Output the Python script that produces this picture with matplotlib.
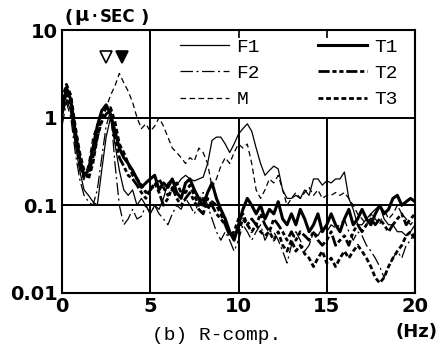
import matplotlib
matplotlib.use('Agg')
import matplotlib.pyplot as plt
import numpy as np
from matplotlib.patches import Rectangle

plt.rcParams['lines.scale_dashes'] = False

# frequency axis (Hz), 0.25 Hz step
freq = np.arange(0, 20.01, 0.25)

# response levels (micro-sec)
F1 = [1.0, 1.6, 1.2, 0.5,  0.25, 0.15, 0.13, 0.11,  0.1, 0.25, 0.6, 1.0,
      0.5, 0.25, 0.15, 0.13,  0.15, 0.1, 0.12, 0.1,  0.08, 0.1, 0.09, 0.12,
      0.18, 0.2, 0.17, 0.2,  0.22, 0.2, 0.19, 0.2,  0.21, 0.3, 0.55, 0.6,
      0.6, 0.5, 0.4, 0.5,  0.65, 0.75, 0.85, 0.7,  0.45, 0.3, 0.22, 0.25,
      0.28, 0.26, 0.15, 0.12,  0.12, 0.13, 0.12, 0.15,  0.13, 0.2, 0.2, 0.17,
      0.19, 0.18, 0.2, 0.2,  0.24, 0.12, 0.09, 0.06,  0.06, 0.07, 0.08, 0.09,
      0.1, 0.07, 0.06, 0.06,  0.05, 0.05, 0.045, 0.05,  0.06]
F2 = [0.8, 1.5, 1.0, 0.4,  0.2, 0.13, 0.11, 0.1,  0.15, 0.35, 0.8, 1.2,
      0.3, 0.1, 0.06, 0.07,  0.09, 0.07, 0.075, 0.1,  0.08, 0.1, 0.08, 0.07,
      0.06, 0.08, 0.1, 0.09,  0.12, 0.1, 0.08, 0.11,  0.14, 0.1, 0.07, 0.05,
      0.04, 0.05, 0.04, 0.03,  0.04, 0.06, 0.05, 0.04,  0.05, 0.06, 0.04, 0.05,
      0.05, 0.04, 0.03, 0.022,  0.035, 0.05, 0.04, 0.03,  0.035, 0.05, 0.045, 0.055,
      0.05, 0.06, 0.055, 0.06,  0.07, 0.05, 0.04, 0.05,  0.045, 0.035, 0.03, 0.025,
      0.02, 0.015, 0.02, 0.025,  0.03, 0.025, 0.035, 0.04,  0.05]
M = [1.0, 1.8, 1.2, 0.6,  0.3, 0.2, 0.3, 0.6,  0.85, 1.0, 1.3, 1.8,
     2.3, 3.2, 2.5, 2.0,  1.5, 1.0, 0.75, 0.85,  0.7, 0.8, 1.0, 0.8,
     0.6, 0.45, 0.4, 0.35,  0.3, 0.35, 0.32, 0.45,  0.4, 0.3, 0.16, 0.2,
     0.28, 0.35, 0.3, 0.4,  0.5, 0.45, 0.5, 0.3,  0.15, 0.12, 0.15, 0.2,
     0.18, 0.22, 0.15, 0.1,  0.12, 0.14, 0.12, 0.14,  0.16, 0.13, 0.15, 0.12,
     0.13, 0.13, 0.14, 0.13,  0.14, 0.12, 0.1, 0.08,  0.07, 0.06, 0.08, 0.07,
     0.06, 0.09, 0.07, 0.08,  0.1, 0.08, 0.07, 0.06,  0.07]
T1 = [1.2, 2.2, 1.6, 0.7,  0.35, 0.22, 0.25, 0.45,  0.8, 1.2, 1.4, 1.1,
      0.7, 0.45, 0.35, 0.3,  0.25, 0.2, 0.16, 0.18,  0.2, 0.22, 0.15, 0.18,
      0.16, 0.2, 0.14, 0.12,  0.18, 0.2, 0.15, 0.12,  0.1, 0.14, 0.18, 0.12,
      0.09, 0.07, 0.05, 0.04,  0.06, 0.09, 0.12, 0.1,  0.08, 0.1, 0.07, 0.09,
      0.08, 0.11, 0.07, 0.06,  0.08, 0.06, 0.09, 0.07,  0.05, 0.06, 0.08, 0.05,
      0.06, 0.08, 0.06, 0.05,  0.07, 0.09, 0.06, 0.07,  0.09, 0.07, 0.06, 0.08,
      0.1, 0.08, 0.09, 0.12,  0.13, 0.1, 0.11, 0.12,  0.11]
T2 = [1.5, 2.0, 1.3, 0.6,  0.3, 0.2, 0.22, 0.35,  0.6, 0.9, 1.1, 1.2,
      0.6, 0.35, 0.28, 0.22,  0.2, 0.17, 0.14, 0.12,  0.15, 0.18, 0.14, 0.1,
      0.12, 0.16, 0.12, 0.1,  0.12, 0.14, 0.11, 0.09,  0.08, 0.12, 0.1, 0.08,
      0.07, 0.06, 0.045, 0.05,  0.07, 0.08, 0.06, 0.07,  0.06, 0.08, 0.06, 0.05,
      0.07, 0.06, 0.05, 0.04,  0.05, 0.04, 0.05, 0.045,  0.04, 0.05, 0.04, 0.035,
      0.04, 0.05, 0.035, 0.04,  0.045, 0.035, 0.05, 0.06,  0.05, 0.06, 0.07, 0.06,
      0.07, 0.06, 0.05, 0.06,  0.07, 0.08, 0.06, 0.07,  0.08]
T3 = [1.6, 2.4, 1.8, 0.8,  0.4, 0.25, 0.2, 0.3,  0.6, 1.0, 1.3, 1.3,
      0.9, 0.5, 0.4, 0.3,  0.22, 0.2, 0.17, 0.14,  0.15, 0.17, 0.2, 0.16,
      0.13, 0.15, 0.18, 0.14,  0.14, 0.17, 0.13, 0.1,  0.12, 0.09, 0.11, 0.1,
      0.08, 0.06, 0.05, 0.045,  0.05, 0.07, 0.06, 0.05,  0.06, 0.05, 0.045, 0.05,
      0.04, 0.05, 0.035, 0.03,  0.04, 0.03, 0.035, 0.028,  0.025, 0.02, 0.025, 0.03,
      0.022, 0.025, 0.02, 0.025,  0.03, 0.025, 0.03, 0.035,  0.03, 0.025, 0.02, 0.015,
      0.013, 0.015, 0.02, 0.025,  0.03, 0.035, 0.045, 0.05,  0.04]

# peak markers (open / filled triangles)
peak_freq = [2.5, 3.4]
peak_level = [4.9, 4.9]

W, H = 448, 347
def px(x, y):
    return x / W, 1 - y / H

fig = plt.figure(figsize=(W / 100, H / 100), dpi=100)
ax = fig.add_axes([62 / W, 1 - 293 / H, 353 / W, 263 / H])

thin, thick = 0.9, 2.2
styles = [
    ('F1', F1, '-', thin),
    ('F2', F2, (0, (9, 2.5, 1.5, 2.5)), thin),
    ('M', M, (0, (4, 2.5)), thin),
    ('T1', T1, '-', thick),
    ('T2', T2, (0, (8, 2, 3, 2, 3, 2)), 2.0),
    ('T3', T3, (0, (3.5, 2)), 2.0),
]
for name, vals, ls, lw in styles:
    ax.plot(freq, vals, color='black', ls=ls, lw=lw, label=name, zorder=2)

ax.plot(peak_freq[0], peak_level[0], marker='v', ms=9, mfc='white', mec='black', mew=1.2, zorder=6)
ax.plot(peak_freq[1], peak_level[1], marker='v', ms=9, mfc='black', mec='black', mew=1.2, zorder=6)

ax.set_yscale('log')
ax.set_xlim(0, 20)
ax.set_ylim(0.01, 10)

# grid
ax.axhline(0.1, color='black', lw=1.4, zorder=1.5)
ax.axhline(1, color='black', lw=1.4, zorder=4)
for xv in [5, 10, 15]:
    ax.axvline(xv, color='black', lw=1.4, zorder=1.5)

# white area behind the legend
ax.add_patch(Rectangle((5.12, 1.0), 14.88, 9.0, facecolor='white', edgecolor='none', zorder=3))

ax.set_xticks([0, 5, 10, 15, 20])
ax.set_xticklabels(['0', '5', '10', '15', '20'])
ax.set_yticks([0.01, 0.1, 1, 10])
ax.set_yticklabels(['0.01', '0.1', '1', '10'])
ax.minorticks_off()
ax.tick_params(direction='in', length=6, width=1.2, top=True, right=True,
               labelsize=14, pad=3)
for lab in ax.get_xticklabels() + ax.get_yticklabels():
    lab.set_fontweight('bold')
    lab.set_family('DejaVu Sans')
ax.xaxis.set_zorder(4.5)
for sp in ax.spines.values():
    sp.set_linewidth(1.5)
    sp.set_zorder(7)

leg = ax.legend(ncol=2, loc='upper left', bbox_to_anchor=((180 - 62) / 353, (293 - 38) / 263),
                frameon=False, borderpad=0, borderaxespad=0, handlelength=2.5,
                handletextpad=0.4, columnspacing=3.0, labelspacing=0.45,
                prop={'family': 'Liberation Mono', 'size': 14})
leg.set_zorder(6)

# unit labels and caption
bold = dict(fontweight='bold', family='DejaVu Sans', color='black')
fig.text(*px(64, 23), '(', fontsize=13, va='baseline', **bold)
fig.text(*px(74, 21), 'μ', fontsize=14, va='baseline', **bold)
fig.text(*px(91, 21), '·', fontsize=11, va='baseline', **bold)
fig.text(*px(100, 22), 'SEC', fontsize=12, va='baseline', **bold)
fig.text(*px(140, 23), ')', fontsize=13, va='baseline', **bold)
fig.text(*px(416, 332), '(Hz)', fontsize=13, ha='center', va='center', **bold)
fig.text(*px(217, 335), '(b) R-comp.', fontsize=14, ha='center', va='center',
         family='Liberation Mono')

fig.savefig('out.png', dpi=100)
